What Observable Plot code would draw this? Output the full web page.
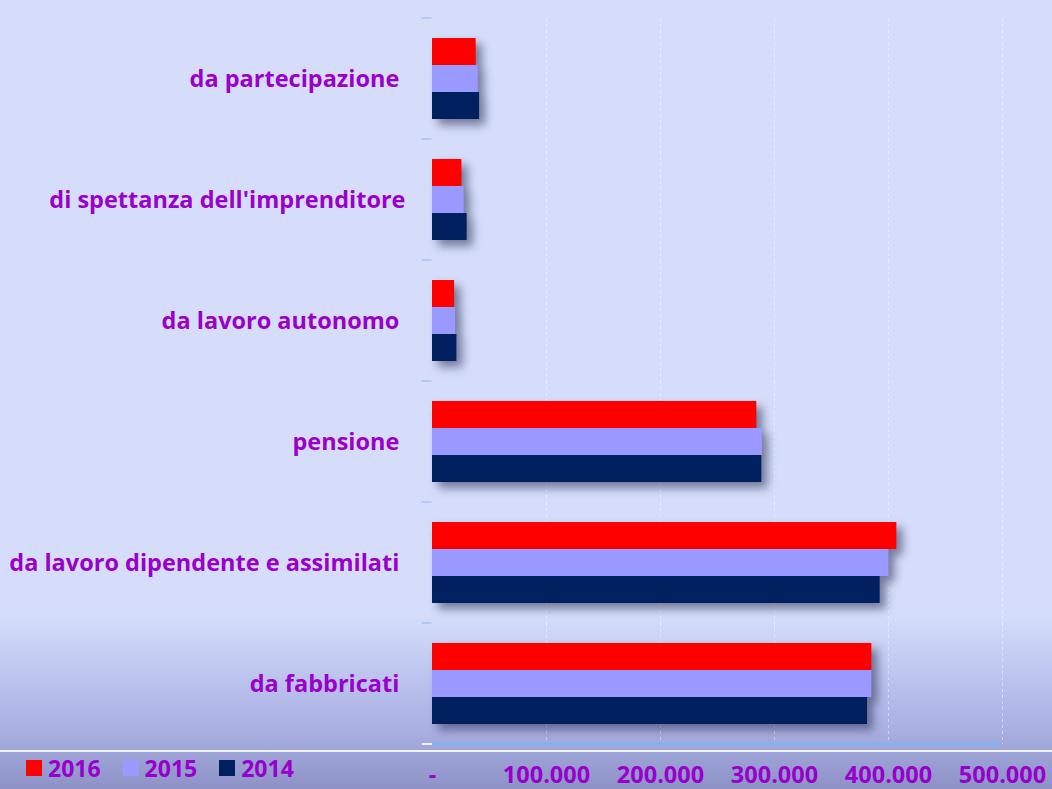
<!DOCTYPE html>
<html>
<head>
<meta charset="utf-8">
<script src="https://cdn.jsdelivr.net/npm/d3@7"></script>
<script src="https://cdn.jsdelivr.net/npm/@observablehq/plot@0.6"></script>
<style>
  html, body { margin: 0; padding: 0; }
  body { width: 1052px; height: 789px; overflow: hidden; font-family: "Open Sans", sans-serif; }
  #wrap { position: relative; width: 1052px; height: 789px; }
  #legend { position: absolute; left: 26px; top: 752px; display: flex; align-items: center;
            font: bold 23px "Open Sans", sans-serif; color: #9900cc; }
  .item { display: flex; align-items: center; margin-right: 22px; }
  .sw { width: 16px; height: 16px; margin-right: 6px; }
  #wline { position: absolute; left: 0; top: 750px; width: 1052px; height: 1.5px; background: rgba(255,255,255,0.85); }
</style>
</head>
<body>
<div id="wrap"></div>
<script>
const categories = ["da partecipazione", "di spettanza dell'imprenditore", "da lavoro autonomo", "pensione", "da lavoro dipendente e assimilati", "da fabbricati"];
const years = ["2016", "2015", "2014"];
const v2016 = [38300, 25800, 19400, 284500, 407300, 385400];
const v2015 = [40100, 27800, 20300, 289400, 400300, 385400];
const v2014 = [41300, 30400, 21400, 288900, 392700, 381600];
const colors = ["#ff0000", "#9999ff", "#002060"];
const xTicks = [0, 100000, 200000, 300000, 400000, 500000];

const series = [v2016, v2015, v2014];
const rows = [];
categories.forEach((c, i) => years.forEach((y, j) => rows.push({cat: c, year: y, value: series[j][i]})));

const labelFor = c => c === "di spettanza dell'imprenditore" ? c : c + "\u00a0";
const fmt = d => d === 0 ? "-" : d3.format(",")(d).replace(/,/g, ".");

const plot = Plot.plot({
  width: 1052,
  height: 789,
  marginLeft: 432,
  marginRight: 50,
  marginTop: 15,
  marginBottom: 43,
  style: {
    fontFamily: "'Open Sans', sans-serif",
    fontWeight: "bold",
    fontSize: "23.5px",
    color: "#9900cc",
    background: "linear-gradient(to bottom, #d5ddfb 0%, #d5ddfb 78%, #bcc3ee 86%, #a8aee0 93%, #8d91c6 100%)",
    overflow: "visible"
  },
  x: {domain: [0, 500000], axis: null},
  y: {domain: years, paddingInner: 0, paddingOuter: 0.73, axis: null},
  fy: {domain: categories, padding: 0, axis: null},
  color: {domain: years, range: colors},
  marks: [
    Plot.gridX({ticks: xTicks.slice(1), stroke: "white", strokeOpacity: 0.45, strokeDasharray: "3,3", strokeWidth: 1}),
    Plot.ruleY(categories.map(c => ({cat: c})), {fy: "cat", y: () => "2016", dy: -34, x1: -9000, x2: -500, stroke: "#b4c8f8", strokeWidth: 2}),
    Plot.barX(rows, {x: "value", y: "year", fy: "cat", fill: "year"}),
    Plot.ruleY([{cat: "da fabbricati"}], {fy: "cat", y: () => "2014", dy: 33, x1: 0, x2: 500000, stroke: "#7db4f5", strokeWidth: 2.5}),
    Plot.ruleY([{cat: "da fabbricati"}], {fy: "cat", y: () => "2014", dy: 33, x1: -9000, x2: 0, stroke: "#f4eefa", strokeWidth: 2}),
    Plot.axisFy({anchor: "left", tickSize: 0, tickPadding: 27, label: null, tickFormat: labelFor}),
    Plot.axisX({ticks: xTicks, tickFormat: fmt, tickSize: 0, tickPadding: 22, anchor: "bottom", label: null})
  ]
});

plot.querySelectorAll('g[aria-label="bar"]').forEach(g => {
  g.style.filter = "drop-shadow(6px 6px 5px rgba(50,55,90,0.6))";
});

const wrap = document.getElementById("wrap");
wrap.appendChild(plot);
const wl = document.createElement("div"); wl.id = "wline"; wrap.appendChild(wl);

const legend = d3.select(wrap).append("div").attr("id", "legend");
years.forEach((y, i) => {
  const it = legend.append("div").attr("class", "item");
  it.append("div").attr("class", "sw").style("background", colors[i]);
  it.append("span").text(y);
});
</script>
</body>
</html>
